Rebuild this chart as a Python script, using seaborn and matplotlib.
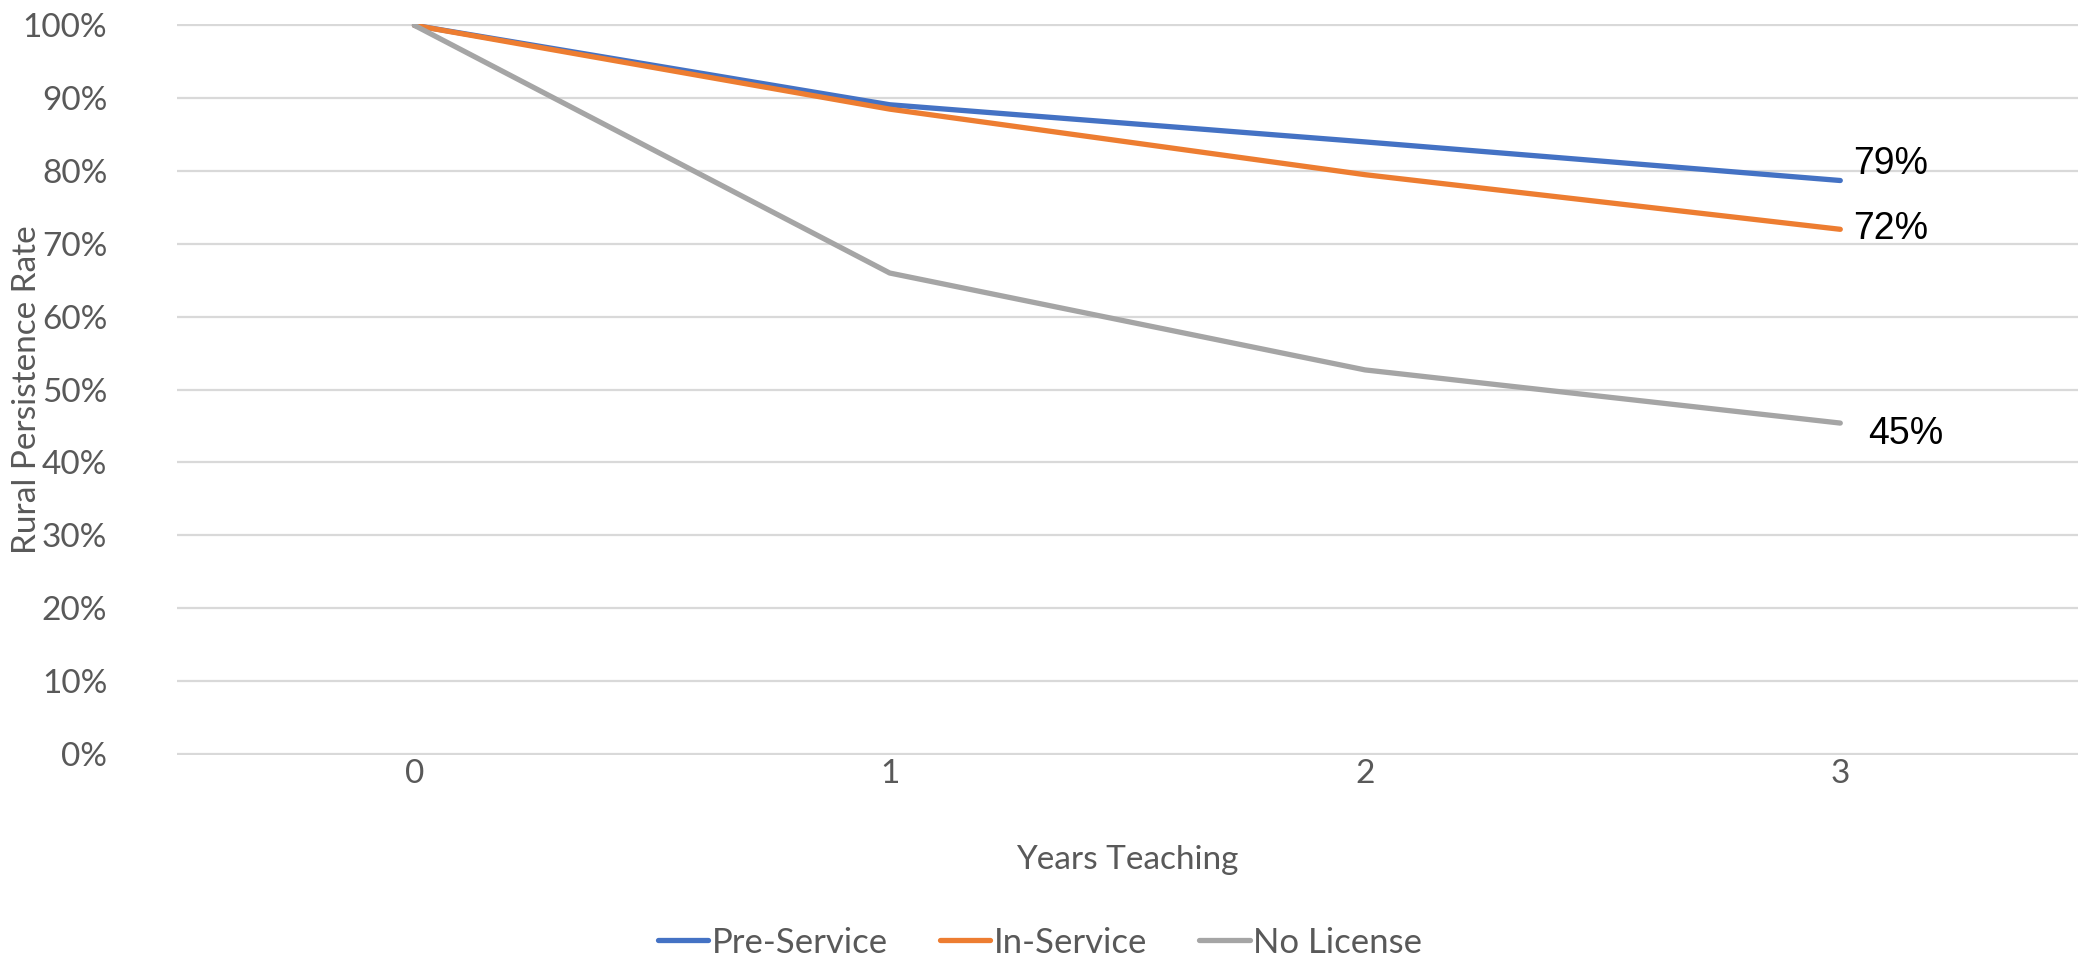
import matplotlib
matplotlib.use("Agg")
import matplotlib.pyplot as plt
import matplotlib.ticker as mticker
import seaborn as sns
import pandas as pd

# Rural persistence of teachers by licensure pathway
years = [0, 1, 2, 3]
pre_service = [1.00, 0.891, 0.840, 0.787]
in_service = [1.00, 0.885, 0.795, 0.720]
no_license = [1.00, 0.660, 0.527, 0.454]
series_names = ["Pre-Service", "In-Service", "No License"]
end_labels = ["79%", "72%", "45%"]

df = pd.concat([
    pd.DataFrame({"Years Teaching": years, "Rate": vals, "Group": name})
    for name, vals in zip(series_names, [pre_service, in_service, no_license])
])

sns.set_theme(style="white")
plt.rcParams["font.family"] = ["Lato", "DejaVu Sans"]

colors = ["#4472C4", "#ED7D31", "#A5A5A5"]
grey_text = "#595959"

fig = plt.figure(figsize=(20.8, 9.56), dpi=100)
ax = fig.add_axes([0.085, 0.21, 0.914, 0.765])

sns.lineplot(data=df, x="Years Teaching", y="Rate", hue="Group",
             hue_order=series_names, palette=colors, linewidth=3.8,
             ax=ax, legend=True)
for line in ax.get_lines():
    line.set_solid_capstyle("round")

ax.set_xlim(-0.5, 3.5)
ax.set_yticks([i / 10 for i in range(11)])
ax.yaxis.set_major_formatter(mticker.PercentFormatter(1.0, decimals=0))
ax.set_xticks(years)
ax.set_xticklabels([str(y) for y in years])
ax.grid(axis="y", color="#D9D9D9", linewidth=1.6)
ax.set_axisbelow(True)
for s in ax.spines.values():
    s.set_visible(False)
ax.tick_params(axis="both", length=0, labelsize=24, colors=grey_text)
ax.tick_params(axis="x", pad=3)
ax.tick_params(axis="y", pad=50)
ax.set_ylim(-0.002, 1.002)

ax.set_xlabel("Years Teaching", fontsize=24, color=grey_text, labelpad=40)
ax.set_ylabel("Rural Persistence Rate", fontsize=24, color=grey_text)
ax.yaxis.set_label_coords(-0.071, 0.5)

# value labels at the last year
offsets = [(9, 12), (9, 0), (20, -8)]
for vals, text, off in zip([pre_service, in_service, no_license], end_labels, offsets):
    ax.annotate(text, xy=(years[-1], vals[-1]), xytext=off,
                textcoords="offset points", ha="left", va="center",
                fontsize=27, color="black", family=["Liberation Sans", "DejaVu Sans"])

handles, labels = ax.get_legend_handles_labels()
fig.legend(handles, labels, loc="center", bbox_to_anchor=(0.5, 0.014),
           ncol=3, frameon=False, fontsize=25, labelcolor=grey_text,
           handlelength=1.45, handletextpad=0.1, columnspacing=1.5)
ax.get_legend().remove()

fig.savefig("out.png", dpi=100, facecolor="white")
